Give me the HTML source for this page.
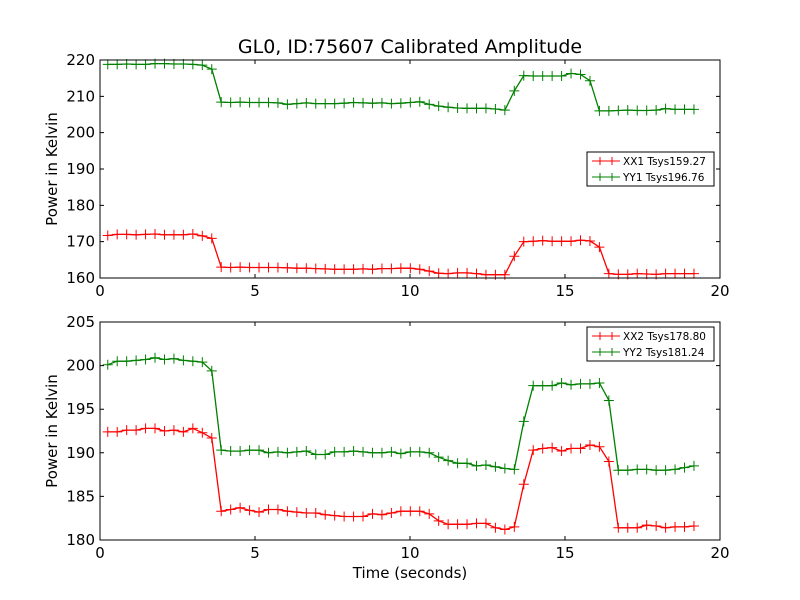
<!DOCTYPE html>
<html><head><meta charset="utf-8"><style>
body{margin:0;background:#fff}
svg{display:block;font-family:"DejaVu Sans","Liberation Sans",sans-serif}
</style></head><body>
<svg id="chart" width="800" height="600" viewBox="0 0 800 600" xmlns="http://www.w3.org/2000/svg">
<rect width="800" height="600" fill="#fff"/>
<text x="410" y="53" font-size="19" text-anchor="middle">GL0, ID:75607 Calibrated Amplitude</text>
<text x="410" y="578" font-size="15" text-anchor="middle">Time (seconds)</text>
</svg>
<script>
const xx1 = [171.7,172,172,171.9,172,172.1,171.9,171.9,171.9,172.1,171.6,170.9,163,162.9,163,162.9,162.9,162.9,162.9,162.8,162.7,162.7,162.6,162.5,162.4,162.4,162.4,162.5,162.4,162.6,162.6,162.7,162.7,162.4,161.9,161.3,161.2,161.4,161.4,161.2,160.9,160.9,160.9,166,170,170.1,170.3,170.1,170.1,170.1,170.4,170.2,168.5,161.2,161,161,161.2,161.1,161,161.2,161.2,161.2,161.2];
const yy1 = [218.8,218.8,218.9,218.8,218.8,219,219,218.9,218.9,218.8,218.6,217.5,208.4,208.3,208.4,208.3,208.3,208.3,208.2,207.8,208,208.2,208,208,208,208.1,208.3,208.2,208.1,208.2,208,208.1,208.3,208.5,207.8,207.3,207,206.8,206.7,206.7,206.7,206.5,206.2,211.5,215.7,215.6,215.6,215.6,215.6,216.3,216,214.3,206,206,206.1,206.2,206.1,206.1,206.2,206.6,206.4,206.4,206.4];
const xx2 = [192.4,192.4,192.6,192.6,192.8,192.8,192.5,192.6,192.4,192.8,192.3,191.7,183.3,183.5,183.7,183.4,183.2,183.5,183.5,183.3,183.2,183.1,183.1,182.9,182.8,182.7,182.7,182.7,183,182.9,183.1,183.3,183.3,183.3,183,182.2,181.8,181.8,181.8,181.9,181.9,181.4,181.2,181.5,186.4,190.3,190.5,190.6,190.2,190.5,190.5,190.9,190.7,189,181.4,181.4,181.4,181.7,181.6,181.4,181.5,181.5,181.6];
const yy2 = [200.1,200.5,200.5,200.6,200.7,200.9,200.7,200.8,200.6,200.5,200.4,199.4,190.3,190.2,190.2,190.3,190.3,190,190.1,190,190.1,190.2,189.8,189.8,190.1,190.1,190.2,190.1,190,190,190.1,189.9,190.1,190.1,190,189.5,189.1,188.8,188.8,188.5,188.6,188.4,188.2,188.1,193.6,197.7,197.7,197.7,198,197.8,197.9,197.9,198,196,188,188,188.1,188.1,188,188,188.1,188.3,188.5];
const xTicks = [0,5,10,15,20];
const yTicksTop = [160,170,180,190,200,210,220];
const yTicksBot = [180,185,190,195,200,205];

const NS='http://www.w3.org/2000/svg';
const svg=document.getElementById('chart');
function mk(tag,attrs,parent){const e=document.createElementNS(NS,tag);for(const k in attrs)e.setAttribute(k,attrs[k]);(parent||svg).appendChild(e);return e;}
const X0=100,X1=720;
function xs(t){return X0+(t/20)*(X1-X0);}
function times(n){const a=[];for(let i=0;i<n;i++)a.push(0.25+i*0.305);return a;}

function panel(name,top,bot,ymin,ymax,yTicks,series,legend){
  const ys=v=>bot-(v-ymin)/(ymax-ymin)*(bot-top);
  const g=mk('g',{});
  
  
  series.forEach(s=>{
    const ts=times(s.vals.length);
    const pts=s.vals.map((v,i)=>xs(ts[i]).toFixed(1)+','+ys(v).toFixed(1)).join(' ');
    const pl=mk('polyline',{points:pts,fill:'none',stroke:s.color,'stroke-width':1.3},g);
    
    
    s.vals.forEach((v,i)=>{
      const x=xs(ts[i]),y=ys(v);
      const m=mk('path',{d:`M${x-5},${y}H${x+5}M${x},${y-5}V${y+5}`,stroke:s.color,'stroke-width':1},g);
      
      
    });
  });
  mk('rect',{x:X0,y:top,width:X1-X0,height:bot-top,fill:'none',stroke:'#000','stroke-width':1},g);
  xTicks.forEach(t=>{
    const x=xs(t);
    mk('path',{d:`M${x},${bot}v-4M${x},${top}v4`,stroke:'#000'},g);
    const tx=mk('text',{x:x,y:bot+18,'font-size':15,'text-anchor':'middle'},g);
    tx.textContent=t;
    
    
  });
  yTicks.forEach(v=>{
    const y=ys(v);
    mk('path',{d:`M${X0},${y}h4M${X1},${y}h-4`,stroke:'#000'},g);
    const tx=mk('text',{x:X0-5,y:y+5,'font-size':15,'text-anchor':'end'},g);
    tx.textContent=v;
    
    
  });
  const yl=mk('text',{x:57,y:(top+bot)/2,'font-size':15,'text-anchor':'middle',transform:`rotate(-90 57 ${(top+bot)/2})`},g);
  yl.textContent='Power in Kelvin';
  
  
  const lg=mk('g',{},g);
  
  
  mk('rect',{x:587,y:legend,width:127,height:34,fill:'#fff',stroke:'#000','stroke-width':1},lg);
  series.forEach((s,i)=>{
    const y=legend+9+i*16;
    mk('path',{d:`M592,${y}H620M600,${y-4}v8M612,${y-4}v8`,stroke:s.color,'stroke-width':1},lg);
    const t=mk('text',{x:623,y:y+4,'font-size':10.5},lg);
    t.textContent=s.label;
    
    
  });
}
panel('top-panel',60,278,160,220,yTicksTop,[{name:'xx1',vals:xx1,color:'#ff0000',label:'XX1 Tsys159.27'},{name:'yy1',vals:yy1,color:'#008000',label:'YY1 Tsys196.76'}],152);
panel('bottom-panel',322,540,180,205,yTicksBot,[{name:'xx2',vals:xx2,color:'#ff0000',label:'XX2 Tsys178.80'},{name:'yy2',vals:yy2,color:'#008000',label:'YY2 Tsys181.24'}],327);
</script>
</body></html>
